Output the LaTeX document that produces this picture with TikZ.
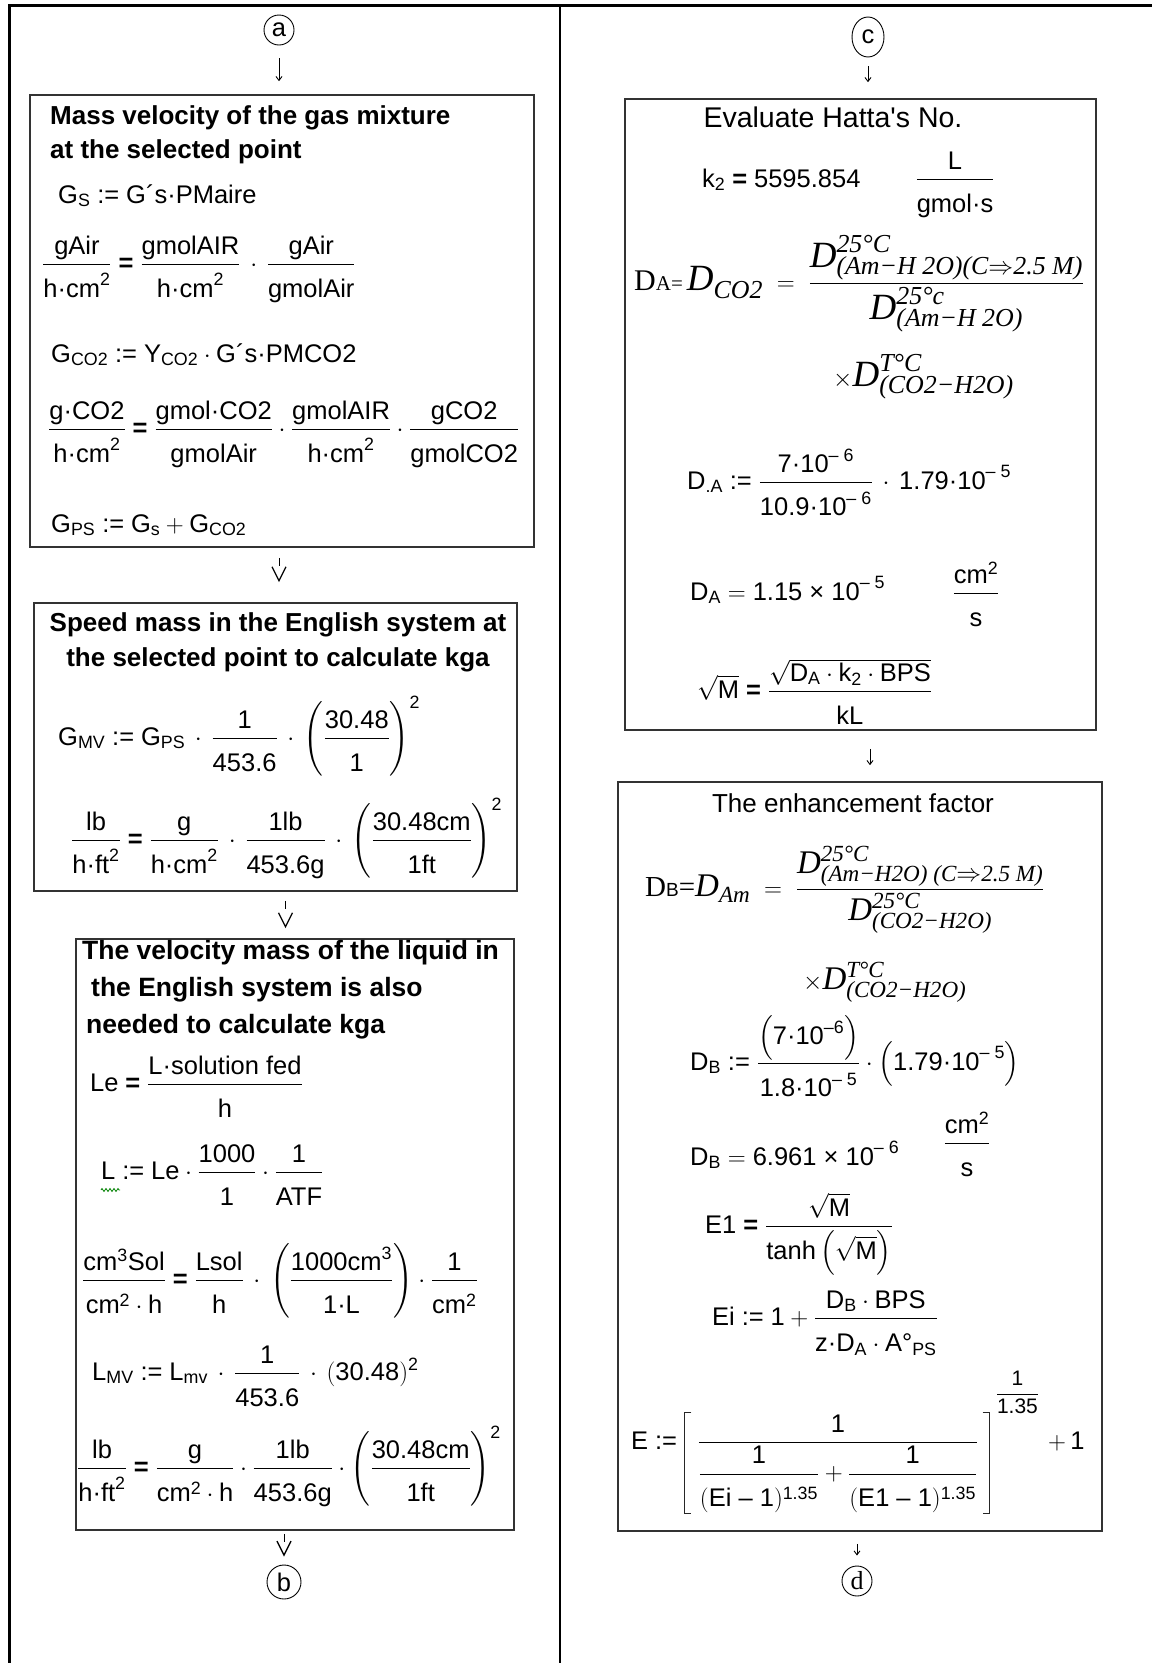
\documentclass[tikz,border=0pt]{standalone}
\usepackage{amsmath}
\usepackage{fontspec}
\setmainfont{Liberation Sans}
\newfontfamily\timesf{Liberation Serif}
\usetikzlibrary{arrows.meta,positioning,shapes.geometric,decorations.pathmorphing}
\newcommand{\txt}[1]{\text{#1}}
\newcommand{\tms}[1]{\text{\timesf\itshape #1}}
\newcommand{\beq}{\mathrel{\text{\bfseries =}}}
\newcommand{\deq}{\mathrel{\text{:=}}}
\newcommand{\md}{\mathbin{\,\cdot\,}}
\newcommand{\mcfrac}[2]{\dfrac{#1}{\rule{0pt}{29pt}#2}}

\begin{document}
\begin{tikzpicture}[x=1pt,y=-1pt,
  every node/.style={font=\fontsize{25.5}{30}\selectfont, inner sep=0pt},
  panel/.style={draw=black!80, line width=1.6pt, rectangle},
  tag/.style={draw, circle, line width=0.9pt, minimum size=30pt},
  heading/.style={font=\fontsize{26}{34}\selectfont\bfseries},
  eqn/.style={anchor=base west},
  bracket/.style={line width=1pt, draw=black!85},
  thin arrow/.style={-{Straight Barb[length=4pt,width=6pt]}, line width=0.9pt},
  v arrow/.style={-{Straight Barb[length=14pt,width=14pt,line width=1.3pt]}, line width=1pt, dash pattern=on 8pt off 40pt}]
\useasboundingbox (0,0) rectangle (1152,1663);
% outer frame
\draw[line width=3pt] (9,1663) -- (9,5) -- (1152,5);
\draw[line width=2.5pt] (560,5) -- (560,1663);

% left column
\node[tag] (a) at (279,30) {a};
\node[panel, minimum width=504pt, minimum height=452pt] (boxA) at (282,321) {};
\node[panel, minimum width=483pt, minimum height=288pt] (boxB) at (275.5,747) {};
\node[panel, minimum width=438pt, minimum height=591pt] (boxC) at (295,1234.5) {};
\node[tag, minimum size=34pt] (b) at (284,1582) {b};

\node[heading, anchor=west, align=left] (titleA) at (50,135) {Mass velocity of the gas mixture\\at the selected point};
\node[eqn] (gs) at (58,203) {$\txt{G}_{\txt{S}}\deq\txt{G´s·PMaire}$};
\node[eqn] (gair) at (42,271) {$\mcfrac{\txt{gAir}}{\txt{h·cm}^{\txt{2}}}\beq\mcfrac{\txt{gmolAIR}}{\txt{h·cm}^{\txt{2}}}\md\mcfrac{\txt{gAir}}{\txt{gmolAir}}$};
\node[eqn] (gco2) at (51,362) {$\txt{G}_{\txt{CO2}}\deq\txt{Y}_{\txt{CO2}}\cdot\txt{G´s·PMCO2}$};
\node[eqn] (gco2u) at (48,436) {$\mcfrac{\txt{g·CO2}}{\txt{h·cm}^{\txt{2}}}\beq\mcfrac{\txt{gmol·CO2}}{\txt{gmolAir}}\cdot\mcfrac{\txt{gmolAIR}}{\txt{h·cm}^{\txt{2}}}\cdot\mcfrac{\txt{gCO2}}{\txt{gmolCO2}}$};
\node[eqn] (gps) at (51,532) {$\txt{G}_{\txt{PS}}\deq\txt{G}_{\txt{s}}+\txt{G}_{\txt{CO2}}$};

\node[heading, align=center, font=\fontsize{26}{35}\selectfont\bfseries] (titleB) at (278,642) {Speed mass in the English system at\\the selected point to calculate kga};
\node[eqn] (gmv) at (58,745) {$\txt{G}_{\txt{MV}}\deq\txt{G}_{\txt{PS}}\md\mcfrac{\txt{1}}{\txt{453.6}}\md\left(\mcfrac{\txt{30.48}}{\txt{1}}\right)^{\txt{2}}$};
\node[eqn] (lbB) at (71,847) {$\mcfrac{\txt{lb}}{\txt{h·ft}^{\txt{2}}}\beq\mcfrac{\txt{g}}{\txt{h·cm}^{\txt{2}}}\md\mcfrac{\txt{1lb}}{\txt{453.6g}}\md\left(\mcfrac{\txt{30.48cm}}{\txt{1ft}}\right)^{\txt{2}}$};

\node[heading, anchor=west, align=left, font=\fontsize{26.5}{37}\selectfont\bfseries] (titleC) at (82,990) {The velocity mass of the liquid in\\\hspace*{9pt}the English system is also\\\hspace*{4pt}needed to calculate kga};
\node[eqn] (le) at (90,1091) {$\txt{Le}\beq\mcfrac{\txt{L·solution fed}}{\txt{h}}$};
\node[eqn] (lq) at (101,1179) {$\txt{L}\deq\txt{Le}\cdot\mcfrac{\txt{1000}}{\txt{1}}\cdot\mcfrac{\txt{1}}{\txt{ATF}}$};
\draw[green!50!black, line width=0.8pt, decorate, decoration={zigzag, segment length=4pt, amplitude=1.5pt}] (101,1190) -- (120,1190);
\node[eqn] (cm3) at (82,1287) {$\mcfrac{\txt{cm}^{\txt{3}}\txt{Sol}}{\txt{cm}^{\txt{2}}\cdot\txt{h}}\beq\mcfrac{\txt{Lsol}}{\txt{h}}\md\left(\mcfrac{\txt{1000cm}^{\txt{3}}}{\txt{1·L}}\right)\cdot\mcfrac{\txt{1}}{\txt{cm}^{\txt{2}}}$};
\node[eqn] (lmv) at (92,1380) {$\txt{L}_{\txt{MV}}\deq\txt{L}_{\txt{mv}}\md\mcfrac{\txt{1}}{\txt{453.6}}\md(\txt{30.48})^{\txt{2}}$};
\node[eqn] (lbC) at (77,1475) {$\mcfrac{\txt{lb}}{\txt{h·ft}^{\txt{2}}}\beq\mcfrac{\txt{g}}{\txt{cm}^{\txt{2}}\cdot\txt{h}}\cdot\mcfrac{\txt{1lb}}{\txt{453.6g}}\cdot\left(\mcfrac{\txt{30.48cm}}{\txt{1ft}}\right)^{\txt{2}}$};

% right column
\node[tag, ellipse, minimum width=32pt, minimum height=40pt] (c) at (868,37) {c};
\node[panel, minimum width=471pt, minimum height=631pt] (boxD) at (860.5,414.5) {};
\node[panel, minimum width=484pt, minimum height=749pt] (boxE) at (860,1156.5) {};
\node[tag, font=\timesf\fontsize{26}{28}\selectfont] (d) at (857,1581) {d};

\node (hatta) at (833,117) {\fontsize{28.5}{32}\selectfont Evaluate Hatta\textquotesingle s No.};
\node[eqn] (k2) at (702,187) {$\txt{k}_{\txt{2}}\beq\txt{5595.854}$};
\node[anchor=base] (k2u) at (955,186) {$\mcfrac{\txt{L}}{\txt{gmol·s}}$};
\node[eqn] (dco2) at (634,290) {{\timesf\fontsize{30}{32}\selectfont D\fontsize{21}{22}\selectfont A=}\hspace{4pt}\fontsize{37}{40}\selectfont$\tms{D}_{\tms{CO2}}\;=\;\dfrac{\tms{D}^{\tms{25°C}}_{\tms{(Am−H 2O)(C}\Rightarrow\tms{2.5 M)}}}{\tms{D}^{\tms{25°c}}_{\tms{(Am−H 2O)}}}$};
\node[eqn] (tco2A) at (833,386) {\fontsize{37}{40}\selectfont$\times\tms{D}^{\tms{T°C}}_{\tms{(CO2−H2O)}}$};
\node[eqn] (daeq) at (687,489) {$\txt{D}_{\txt{.A}}\deq\mcfrac{\txt{7·10}^{\txt{– 6}}}{\txt{10.9·10}^{\txt{– 6}}}\md\txt{1.79·10}^{\txt{– 5}}$};
\node[eqn] (daval) at (690,600) {$\txt{D}_{\txt{A}}=\txt{1.15 × 10}^{\txt{– 5}}$};
\node[anchor=base] (dau) at (976,600) {$\mcfrac{\txt{cm}^{\txt{2}}}{\txt{s}}$};
\node[eqn] (sqm) at (697,698) {$\sqrt{\txt{M}}\beq\mcfrac{\sqrt{\txt{D}_{\txt{A}}\cdot\txt{k}_{\txt{2}}\cdot\txt{BPS}}}{\txt{kL}}$};

\node (enh) at (853,803) {\fontsize{26}{30}\selectfont The enhancement factor};
\node[eqn] (dam) at (645,896) {{\timesf\fontsize{29}{30}\selectfont D}{\fontsize{19}{20}\selectfont B}{\timesf\fontsize{29}{30}\selectfont =}\fontsize{33}{36}\selectfont$\tms{D}_{\tms{Am}}\;=\;\dfrac{\tms{D}^{\tms{25°C}}_{\tms{(Am−H2O) (C}\Rightarrow\tms{2.5 M)}}}{\tms{D}^{\tms{25°C}}_{\tms{(CO2−H2O)}}}$};
\node[eqn] (tco2B) at (803,989) {\fontsize{33}{36}\selectfont$\times\tms{D}^{\tms{T°C}}_{\tms{(CO2−H2O)}}$};
\node[eqn] (dbeq) at (690,1070) {$\txt{D}_{\txt{B}}\deq\mcfrac{\left(\txt{7·10}^{\txt{–6}}\right)}{\txt{1.8·10}^{\txt{– 5}}}\cdot\left(\txt{1.79·10}^{\txt{– 5}}\right)$};
\node[eqn] (dbval) at (690,1165) {$\txt{D}_{\txt{B}}=\txt{6.961 × 10}^{\txt{– 6}}$};
\node[anchor=base] (dbu) at (967,1150) {$\mcfrac{\txt{cm}^{\txt{2}}}{\txt{s}}$};
\node[eqn] (e1) at (705,1233) {$\txt{E1}\beq\mcfrac{\sqrt{\txt{M}}}{\txt{tanh}\left(\sqrt{\txt{M}}\right)}$};
\node[eqn] (ei) at (712,1325) {$\txt{Ei}\deq\txt{1}+\mcfrac{\txt{D}_{\txt{B}}\cdot\txt{BPS}}{\txt{z·D}_{\txt{A}}\cdot\txt{A°}_{\txt{PS}}}$};
\node[eqn] (edef) at (631,1449) {$\txt{E}\deq$};
\node[anchor=base] (efrac) at (838,1449) {$\dfrac{\txt{1}}{\mcfrac{\txt{1}}{(\txt{Ei – 1})^{\txt{1.35}}}+\mcfrac{\txt{1}}{(\txt{E1 – 1})^{\txt{1.35}}}}$};
\draw[bracket] ([xshift=-6pt,yshift=2pt]efrac.north west) -- ([xshift=-13pt,yshift=2pt]efrac.north west) -- ([xshift=-13pt]efrac.south west) -- ([xshift=-6pt]efrac.south west);
\draw[bracket] ([xshift=4pt,yshift=2pt]efrac.north east) -- ([xshift=11pt,yshift=2pt]efrac.north east) -- ([xshift=11pt]efrac.south east) -- ([xshift=4pt]efrac.south east);
\node[anchor=west, font=\fontsize{21}{24}\selectfont] (eexp) at ([xshift=17pt,yshift=22pt]efrac.north east) {$\dfrac{\txt{1}}{\txt{1.35}}$};
\node[eqn] (eone) at (1048,1449) {$+\,\txt{1}$};

% connectors
\draw[thin arrow, shorten <=13pt, shorten >=13pt] (a.south) -- (a.south |- boxA.north);
\draw[v arrow, shorten <=10pt, shorten >=20pt] ([xshift=-3pt]boxA.south) -- ([xshift=-3pt]boxA.south |- boxB.north);
\draw[v arrow, shorten <=9pt, shorten >=10pt] ([xshift=10pt]boxB.south) -- ([xshift=10pt]boxB.south |- boxC.north);
\draw[v arrow, shorten <=3pt, shorten >=8pt] (boxC.south -| b) -- (b.north);
\draw[thin arrow, shorten <=9pt, shorten >=16pt] (c.south) -- (c.south |- boxD.north);
\draw[thin arrow, shorten <=18pt, shorten >=16pt] ([xshift=9.5pt]boxD.south) -- ([xshift=9.5pt]boxD.south |- boxE.north);
\draw[thin arrow, shorten <=12pt, shorten >=10pt] (boxE.south -| d) -- (d.north);
\end{tikzpicture}
\end{document}
